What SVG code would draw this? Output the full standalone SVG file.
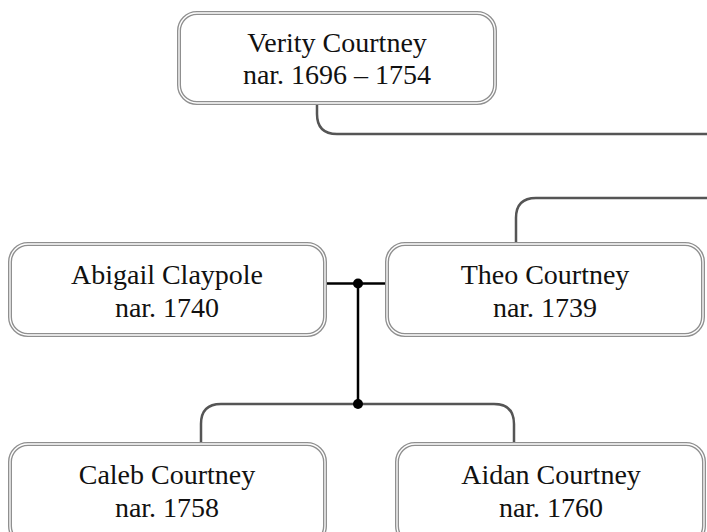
<svg xmlns="http://www.w3.org/2000/svg" width="707" height="532" viewBox="0 0 707 532">
<style>
.bo{fill:#fff;stroke:#8f8f8f;stroke-width:4}
.bi{fill:none;stroke:#fff;stroke-width:1.3}
.t{font-family:"Liberation Serif","Times New Roman",serif;font-size:28px;fill:#111;text-anchor:middle}
.pc{fill:none;stroke:#555;stroke-width:2.5}
.mr{fill:none;stroke:#000;stroke-width:2.5}
</style>
<rect width="707" height="532" fill="#fff"/>
<g id="connectors">
<path class="pc" d="M317,104 V114 Q317,134 337,134 H707"/>
<path class="pc" d="M516,243 V218 Q516,198 536,198 H707"/>
<path class="pc" d="M358,404 H221 Q201,404 201,424 V443"/>
<path class="pc" d="M358,404 H494 Q514,404 514,424 V443"/>
<path class="mr" d="M325,283.5 H388"/>
<path class="mr" d="M358,283.5 V404"/>
<circle cx="358" cy="283.5" r="5"/>
<circle cx="358" cy="404" r="5"/>
</g>
<g id="verity">
<rect class="bo" x="179" y="13" width="316" height="90" rx="18"/>
<rect class="bi" x="179" y="13" width="316" height="90" rx="18"/>
<text class="t" x="337" y="52">Verity Courtney</text>
<text class="t" x="337" y="84">nar. 1696 – 1754</text>
</g>
<g id="abigail">
<rect class="bo" x="10" y="244" width="315" height="91" rx="18"/>
<rect class="bi" x="10" y="244" width="315" height="91" rx="18"/>
<text class="t" x="167" y="284">Abigail Claypole</text>
<text class="t" x="167" y="317">nar. 1740</text>
</g>
<g id="theo">
<rect class="bo" x="387" y="244" width="316" height="91" rx="18"/>
<rect class="bi" x="387" y="244" width="316" height="91" rx="18"/>
<text class="t" x="545" y="284">Theo Courtney</text>
<text class="t" x="545" y="317">nar. 1739</text>
</g>
<g id="caleb">
<rect class="bo" x="10" y="444" width="315" height="100" rx="18"/>
<rect class="bi" x="10" y="444" width="315" height="100" rx="18"/>
<text class="t" x="167" y="484">Caleb Courtney</text>
<text class="t" x="167" y="517">nar. 1758</text>
</g>
<g id="aidan">
<rect class="bo" x="397" y="444" width="307" height="100" rx="18"/>
<rect class="bi" x="397" y="444" width="307" height="100" rx="18"/>
<text class="t" x="551" y="484">Aidan Courtney</text>
<text class="t" x="551" y="517">nar. 1760</text>
</g>
</svg>
